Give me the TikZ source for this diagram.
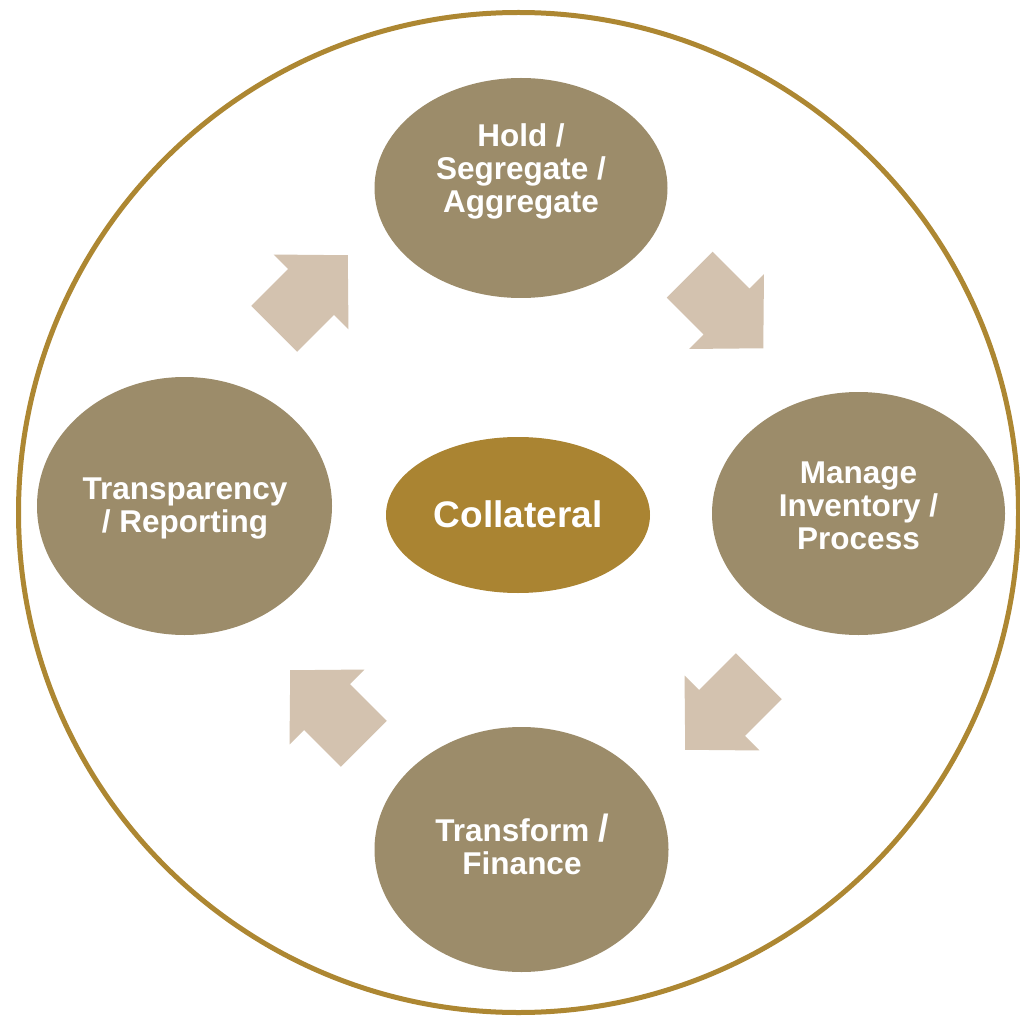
\documentclass[tikz,border=0pt]{standalone}
\usepackage{fontspec}
\setmainfont{Liberation Sans}
\usetikzlibrary{shapes.geometric}
\definecolor{ringgold}{RGB}{173,135,50}
\definecolor{stagefill}{RGB}{156,140,106}
\definecolor{corefill}{RGB}{170,132,50}
\definecolor{arrowfill}{RGB}{211,194,175}
\tikzset{
  stage/.style={ellipse, fill=stagefill, draw=none, inner sep=0pt},
  stagetext/.style={text=white, align=center, inner sep=0pt,
    font=\fontsize{31.5}{33}\selectfont\bfseries},
  coretext/.style={text=white, inner sep=0pt,
    font=\fontsize{37}{40}\selectfont\bfseries},
  blockarrow/.style={fill=arrowfill, draw=none}
}
\newcommand{\cycarrow}[2]{%
  \fill[blockarrow, shift={#1}, rotate=#2]
    (-52,-32.5) -- (0,-32.5) -- (0,-53) -- (52,0) -- (0,53) -- (0,32.5) -- (-52,32.5) -- cycle;}
\begin{document}
\begin{tikzpicture}[x=1pt, y=-1pt]
  \useasboundingbox (0,0) rectangle (1020,1016);
  \fill[white] (0,0) rectangle (1020,1016);
  % outer ring
  \node[circle, draw=ringgold, line width=5pt, minimum size=1000pt, inner sep=0pt] (ring) at (518.5,512.5) {};
  % stages
  \node[stage, minimum width=293pt, minimum height=220pt] (hold) at (521,188) {};
  \node[stage, minimum width=293pt, minimum height=243pt] (manage) at (858.5,513.5) {};
  \node[stage, minimum width=294pt, minimum height=245pt] (transform) at (521.5,849.5) {};
  \node[stage, minimum width=295pt, minimum height=258pt] (transp) at (184.5,506) {};
  \node[ellipse, fill=corefill, draw=none, inner sep=0pt, minimum width=264pt, minimum height=156pt] (coll) at (518,515) {};
  % labels
  \node[stagetext] (holdtxt) at (521,171) {Hold /\\Segregate /\\Aggregate};
  \node[stagetext] (managetxt) at (858.5,505.5) {Manage\\Inventory /\\Process};
  \node[stagetext] (transformtxt) at (522,846.5) {Transform {\fontsize{38}{38}\selectfont\smash{/}}\\Finance};
  \node[stagetext] (transptxt) at (185,508.5) {Transparency\\/ Reporting};
  \node[coretext] (colltxt) at (518,514.5) {Collateral};
  % cycle arrows
  \cycarrow{(311,292)}{45}
  \cycarrow{(726.5,311.5)}{-45}
  \cycarrow{(722,713)}{-135}
  \cycarrow{(327,707)}{135}
\end{tikzpicture}
\end{document}
